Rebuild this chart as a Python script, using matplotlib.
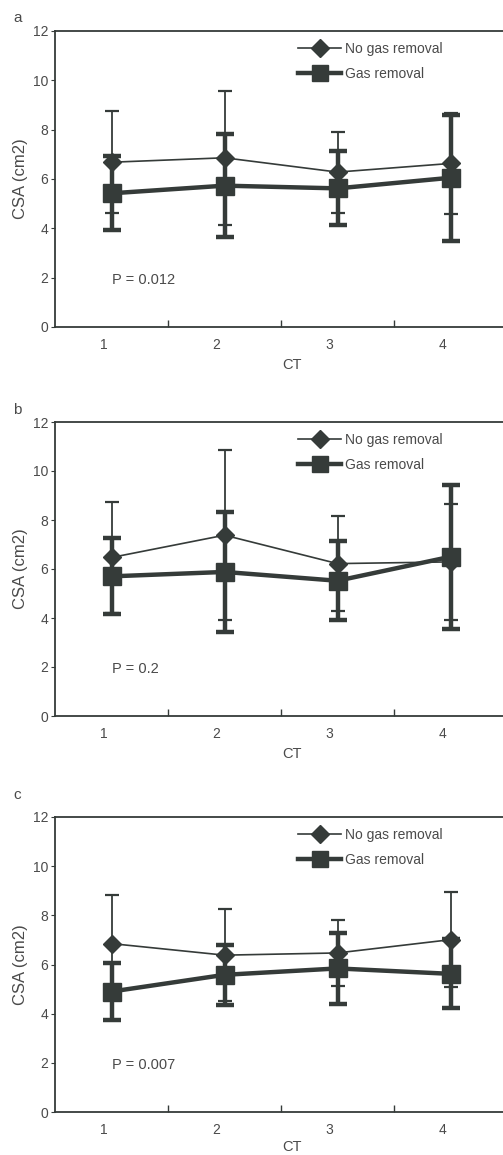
import matplotlib
matplotlib.use("Agg")
import matplotlib.pyplot as plt
import matplotlib.transforms as mtransforms
from matplotlib.lines import Line2D
import numpy as np

plt.rcParams['font.family'] = ['Liberation Sans', 'DejaVu Sans']

ct = [1, 2, 3, 4]
ct_labels = ["1", "2", "3", "4"]
panel_labels = ["a", "b", "c"]
p_texts = ["P = 0.012", "P = 0.2", "P = 0.007"]

nogas_mean_a = [6.68, 6.86, 6.28, 6.63]
nogas_sd_a = [2.07, 2.72, 1.64, 2.05]
gas_mean_a = [5.42, 5.73, 5.62, 6.05]
gas_sd_a = [1.50, 2.08, 1.50, 2.55]

nogas_mean_b = [6.47, 7.38, 6.22, 6.29]
nogas_sd_b = [2.28, 3.48, 1.94, 2.36]
gas_mean_b = [5.70, 5.88, 5.52, 6.50]
gas_sd_b = [1.55, 2.46, 1.62, 2.94]

nogas_mean_c = [6.85, 6.38, 6.47, 7.01]
nogas_sd_c = [1.96, 1.86, 1.36, 1.94]
gas_mean_c = [4.90, 5.58, 5.84, 5.62]
gas_sd_c = [1.15, 1.22, 1.45, 1.40]

nogas_means = [nogas_mean_a, nogas_mean_b, nogas_mean_c]
nogas_sds = [nogas_sd_a, nogas_sd_b, nogas_sd_c]
gas_means = [gas_mean_a, gas_mean_b, gas_mean_c]
gas_sds = [gas_sd_a, gas_sd_b, gas_sd_c]

line_col = "#353b39"
text_col = "#4a4a4a"

fig = plt.figure(figsize=(5.03, 11.55), dpi=100)
fig.patch.set_facecolor("white")

W, H = 503.0, 1155.0
boxes = [(55, 31, 507, 327), (55, 422, 507, 716), (55, 817, 507, 1112)]
label_pos = [(13, 18), (13, 410), (13, 795)]
xlabel_pads = [4, 4, 2]

for i in range(3):
    l, t, r, b = boxes[i]
    ax = fig.add_axes([l / W, 1 - b / H, (r - l) / W, (b - t) / H])
    x = np.array(ct, dtype=float)
    ax.errorbar(x, nogas_means[i], yerr=nogas_sds[i], color=line_col, lw=1.2,
                marker="D", ms=9, mfc=line_col, mec=line_col,
                elinewidth=1.3, capsize=5, capthick=1.6, zorder=3)
    ax.errorbar(x, gas_means[i], yerr=gas_sds[i], color=line_col, lw=3.2,
                marker="s", ms=13, mfc=line_col, mec=line_col,
                elinewidth=3.2, capsize=6.5, capthick=3.2, zorder=2)
    ax.set_xlim(0.5, 4.5)
    ax.set_ylim(0, 12)
    ax.set_yticks(np.arange(0, 13, 2))
    ax.set_xticks(ct)
    ax.set_xticklabels(ct_labels)
    ax.set_xticks([1.5, 2.5, 3.5], minor=True)
    ax.tick_params(axis="x", which="major", length=0, pad=8, labelsize=10,
                   labelcolor=text_col)
    ax.tick_params(axis="x", which="minor", direction="in", length=5,
                   color=line_col, width=1)
    ax.tick_params(axis="y", direction="out", length=3, color=line_col,
                   labelsize=10, labelcolor=text_col, pad=2)
    off = mtransforms.ScaledTranslation(-8 / 100, 0, fig.dpi_scale_trans)
    for lab in ax.get_xticklabels():
        lab.set_transform(lab.get_transform() + off)
    for s in ax.spines.values():
        s.set_color(line_col)
        s.set_linewidth(1.3)
    ax.set_xlabel("CT", fontsize=10.5, color=text_col, labelpad=xlabel_pads[i])
    ax.xaxis.label.set_x(0.525)
    ax.set_ylabel("CSA (cm2)", fontsize=12, color=text_col, labelpad=3)
    ax.text(1.0, 1.9, p_texts[i], fontsize=10.5, color=text_col, va="center",
            ha="left")
    handles = [
        Line2D([], [], color=line_col, lw=1.2, marker="D", ms=9,
               mfc=line_col, mec=line_col),
        Line2D([], [], color=line_col, lw=3.2, marker="s", ms=12,
               mfc=line_col, mec=line_col),
    ]
    leg = ax.legend(handles, ["No gas removal", "Gas removal"],
                    loc="upper left", bbox_to_anchor=(0.51, 1.005),
                    frameon=False, fontsize=10, handlelength=3.1,
                    handletextpad=0.25, labelspacing=0.8)
    for txt in leg.get_texts():
        txt.set_color(text_col)
    fig.text(label_pos[i][0] / W, 1 - label_pos[i][1] / H, panel_labels[i],
             fontsize=11, color=text_col, ha="left", va="center")

fig.savefig("out.png", dpi=100, facecolor="white")
